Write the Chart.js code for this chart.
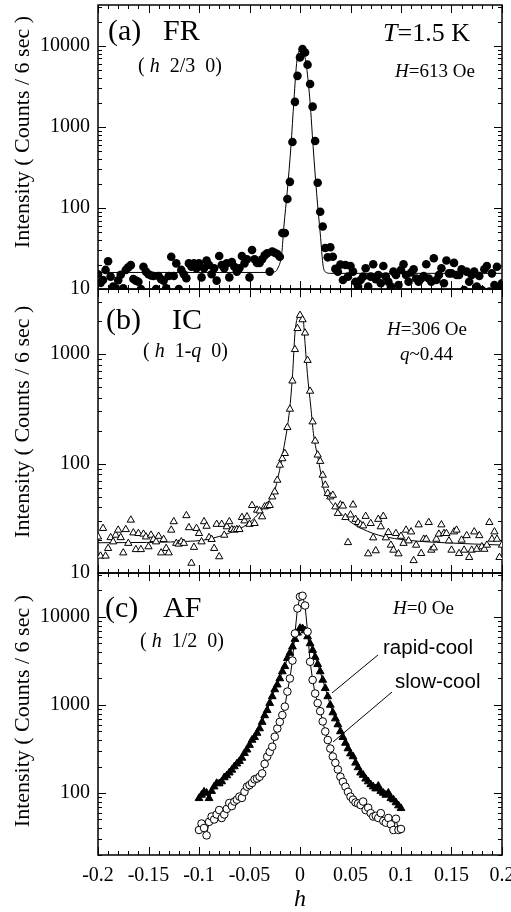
<!DOCTYPE html>
<html>
<head>
<meta charset="utf-8">
<script src="https://cdn.jsdelivr.net/npm/chart.js@4.4.1/dist/chart.umd.min.js"></script>
<style>
  html, body { margin: 0; padding: 0; background: #fff; }
  #wrap { position: relative; width: 511px; height: 912px; overflow: hidden;
          font-family: "Liberation Serif", "Times New Roman", serif; color: #000; }
  canvas { position: absolute; left: 0; }
  .lbl { position: absolute; white-space: pre; line-height: 1; }
  .big { font-size: 30px; }
  .mid { font-size: 20px; }
  .sm { font-size: 19px; }
  .sans { font-family: "Liberation Sans", Arial, sans-serif; font-size: 20.5px; }
</style>
</head>
<body>
<div id="wrap">
  <canvas id="chartFR" width="511" height="300" style="top:0"></canvas>
  <canvas id="chartIC" width="511" height="300" style="top:284px"></canvas>
  <canvas id="chartAF" width="511" height="349" style="top:563px"></canvas>

  <div class="lbl big" style="left:108px;top:15px">(a)</div>
  <div class="lbl big" style="left:163px;top:15px">FR</div>
  <div class="lbl mid" style="left:138px;top:55px">( <i>h</i>  2/3  0)</div>
  <div class="lbl" style="left:383px;top:20px;font-size:26px"><i>T</i>=1.5 K</div>
  <div class="lbl sm" style="left:395px;top:61.4px"><i>H</i>=613 Oe</div>

  <div class="lbl big" style="left:106px;top:304px">(b)</div>
  <div class="lbl big" style="left:172px;top:304px">IC</div>
  <div class="lbl mid" style="left:143px;top:340px">( <i>h</i>  1-<i>q</i>  0)</div>
  <div class="lbl sm" style="left:387px;top:319px"><i>H</i>=306 Oe</div>
  <div class="lbl sm" style="left:400px;top:344px"><i>q</i>~0.44</div>

  <div class="lbl big" style="left:105px;top:591.5px">(c)</div>
  <div class="lbl big" style="left:163px;top:591.5px">AF</div>
  <div class="lbl mid" style="left:140px;top:630px">( <i>h</i>  1/2  0)</div>
  <div class="lbl sm" style="left:393px;top:598.4px"><i>H</i>=0 Oe</div>
  <div class="lbl sans" style="left:383px;top:636.6px">rapid-cool</div>
  <div class="lbl sans" style="left:395px;top:671px">slow-cool</div>
</div>

<script>
// scan positions along h (same grid for FR and IC scans)
const hScan = [
  -0.2, -0.1975, -0.195, -0.1925, -0.19, -0.1875, -0.185, -0.1825, -0.18, -0.1775,
  -0.175, -0.1725, -0.17, -0.1675, -0.165, -0.1625, -0.16, -0.1575, -0.155, -0.1525,
  -0.15, -0.1475, -0.145, -0.1425, -0.14, -0.1375, -0.135, -0.1325, -0.13, -0.1275,
  -0.125, -0.1225, -0.12, -0.1175, -0.115, -0.1125, -0.11, -0.1075, -0.105, -0.1025,
  -0.1, -0.0975, -0.095, -0.0925, -0.09, -0.0875, -0.085, -0.0825, -0.08, -0.0775,
  -0.075, -0.0725, -0.07, -0.0675, -0.065, -0.0625, -0.06, -0.0575, -0.055, -0.0525,
  -0.05, -0.0475, -0.045, -0.0425, -0.04, -0.0375, -0.035, -0.0325, -0.03, -0.0275,
  -0.025, -0.0225, -0.02, -0.0175, -0.015, -0.0125, -0.01, -0.0075, -0.005, -0.0025,
  0, 0.0025, 0.005, 0.0075, 0.01, 0.0125, 0.015, 0.0175, 0.02, 0.0225,
  0.025, 0.0275, 0.03, 0.0325, 0.035, 0.0375, 0.04, 0.0425, 0.045, 0.0475,
  0.05, 0.0525, 0.055, 0.0575, 0.06, 0.0625, 0.065, 0.0675, 0.07, 0.0725,
  0.075, 0.0775, 0.08, 0.0825, 0.085, 0.0875, 0.09, 0.0925, 0.095, 0.0975,
  0.1, 0.1025, 0.105, 0.1075, 0.11, 0.1125, 0.115, 0.1175, 0.12, 0.1225,
  0.125, 0.1275, 0.13, 0.1325, 0.135, 0.1375, 0.14, 0.1425, 0.145, 0.1475,
  0.15, 0.1525, 0.155, 0.1575, 0.16, 0.1625, 0.165, 0.1675, 0.17, 0.1725,
  0.175, 0.1775, 0.18, 0.1825, 0.185, 0.1875, 0.19, 0.1925, 0.195, 0.1975,
  0.2
];

// (a) FR, (h 2/3 0), H=613 Oe
const frCounts = [
  15.2, 11.9, 12.9, 17.2, 22, 14.2, 10.7, 10.2, 12.8, 15,
  10.2, 17.2, 18.5, 19.7, 13.3, 12.7, 12.3, 10, 18.8, 16.4,
  15.2, 14.7, 14.5, 10, 14.5, 13.2, 12.7, 10.2, 14.5, 25,
  14.5, 20.7, 10, 17.2, 15.2, 13.6, 20.7, 18.8, 20.7, 18,
  20.7, 13.9, 18, 22.4, 19.8, 15.2, 18, 12.7, 25.5, 19.8,
  18, 20.7, 13.9, 21.5, 18.8, 16.4, 18, 25.5, 20.7, 23.3,
  13.9, 30.3, 23.3, 21, 21, 23.3, 26, 27.6, 16.4, 29,
  28, 27, 25, 49, 49, 129, 210, 653, 2040, 4270,
  7230, 9120, 8300, 5870, 3390, 1780, 670, 205, 90, 59,
  32, 24.6, 32.7, 25, 17.7, 16.3, 20, 12.9, 19.8, 14.2,
  19.2, 16.4, 12.3, 10.7, 12.9, 14.2, 18, 10.7, 14.2, 20.2,
  13.2, 14.9, 11.8, 19.2, 14.2, 12.3, 10.7, 16.4, 14.9, 11.2,
  17.2, 20.2, 14.9, 12.3, 16, 17.5, 13.5, 12.3, 13.5, 14.5,
  20.2, 13.5, 12.3, 24, 12.9, 14.9, 18, 11.8, 22.5, 15.6,
  15.6, 21, 14.9, 14.9, 17.5, 9.7, 16.4, 12.3, 14.9, 16.4,
  10.7, 14.5, 9.7, 17.5, 19.2, 9.3, 15.6, 11.2, 18.8, 10,
  11.8
];
const frFitH = [-0.2, -0.03, -0.025, -0.0225, -0.018, -0.016, -0.0125, -0.009, -0.006, -0.003, 0,
  0.0015, 0.0035, 0.0065, 0.01, 0.013, 0.0165, 0.02, 0.023, 0.026, 0.03, 0.2];
const frFitCounts = [16, 16, 16.3, 17.5, 28, 58, 167, 570, 2150, 6700, 8900,
  9000, 8500, 5500, 2000, 570, 150, 49, 19, 16, 15.6, 15.6];

// (b) IC, (h 1-q 0), H=306 Oe
const icCounts = [
  21.4, 14.3, 25.6, 14.3, 16.8, 21.1, 19.3, 22.2, 24.7, 21.1,
  15.3, 25.0, 18.7, 30.5, 23.3, 16.4, 23.0, 16.4, 22.7, 21.4,
  17.4, 22.2, 20.3, 19.3, 21.7, 15.3, 20.3, 16.8, 15.3, 24.7,
  29.5, 18.7, 18.4, 19.3, 18.7, 33.5, 26.0, 12.3, 17.2, 25.6,
  23.0, 19.3, 29.5, 26.8, 21.1, 20.3, 16.8, 27.9, 14.1, 27.9,
  22.2, 26.5, 29.5, 25.0, 24.7, 25.0, 25.0, 32.2, 30.0, 32.7,
  27.9, 41.5, 28.4, 37.6, 37.0, 32.7, 40.3, 41, 41.5, 49.7,
  55.2, 70.6, 97, 111, 124, 214, 315, 570, 1105, 1720,
  2270, 2070, 1565, 880, 460, 241, 161, 120, 105, 78.5,
  63.7, 53.5, 49.7, 51.5, 40.3, 35.1, 42, 41, 32.2, 19,
  34, 42, 31, 29, 27.6, 27, 33, 15, 28.4, 21,
  16, 31, 26.5, 33, 21, 23.5, 18, 16.2, 23, 15,
  21.7, 18.7, 24.7, 19.7, 23.8, 13, 18, 27.6, 15.1, 20.4,
  20.4, 29, 16.2, 17, 20.4, 22.7, 27.6, 23, 23, 19.7,
  16.2, 23.8, 24.7, 15.1, 20, 16.2, 22, 13.9, 16.2, 23.8,
  16.5, 22, 17.4, 16.5, 18, 29, 20.4, 23.8, 20.4, 13.9,
  18
];
const icFitH = [-0.2, -0.104, -0.071, -0.051, -0.038, -0.028, -0.025, -0.0175, -0.01, -0.0073, -0.005,
  -0.0023, 0.0007, 0.0033, 0.005, 0.0073, 0.0107, 0.0133, 0.0183, 0.024, 0.028, 0.045, 0.056,
  0.0776, 0.11, 0.1436, 0.2];
const icFitCounts = [18.9, 19.6, 23, 28.4, 37.6, 50, 57, 118, 330, 667, 1550,
  2190, 2320, 2040, 1260, 667, 330, 189, 107, 57, 48, 32, 27,
  22.2, 19.8, 18.9, 18];

// (c) AF, (h 1/2 0), H=0 Oe : scan from -0.1 to 0.1
const hAF = hScan.slice(40, 121);
const slowCool = [
  38, 45, 40, 33, 47, 54, 50, 57, 64, 52,
  57, 66, 77, 71, 80, 84, 91, 88, 103, 118,
  123, 130, 143, 146, 153, 167, 214, 259, 293, 336,
  436, 540, 643, 768, 958, 1420, 2000, 3200, 6500, 12500,
  17000, 17400, 13500, 6800, 3100, 1925, 1350, 1050, 850, 650,
  500, 400, 320, 260, 220, 185, 153, 134, 118, 103,
  91, 84, 78, 76, 73, 80, 64, 68, 59, 54,
  55, 52, 59, 48, 46, 52, 44, 38, 51, 38,
  39
];
const rapidCool = [
  87, 95, 103, 100, 87, 105, 118, 129, 128, 135,
  150, 158, 170, 183, 200, 215, 230, 250, 283, 310,
  350, 400, 430, 480, 540, 640, 760, 870, 1050, 1250,
  1500, 1700, 2000, 2400, 2750, 3400, 3900, 4600, 5600, 6600,
  7450, 7400, 7000, 6000, 5000, 4200, 3500, 2900, 2400, 1925,
  1550, 1250, 1000, 820, 700, 600, 500, 430, 370, 320,
  280, 260, 220, 195, 170, 160, 145, 135, 125, 118,
  112, 120, 105, 100, 95, 100, 87, 84, 78, 72,
  67
];
// pointer lines from the curve labels
const rapidLeaderH = [0.0772, 0.0317];
const rapidLeaderCounts = [3700, 1370];
const slowLeaderH = [0.0911, 0.0327];
const slowLeaderCounts = [1405, 380];

// tick labels
const xTickLabels = [-0.2, -0.15, -0.1, -0.05, 0, 0.05, 0.1, 0.15, 0.2];
const yTicksFR = [10, 100, 1000, 10000];
const yTicksIC = [10, 100, 1000];
const yTicksAF = [100, 1000, 10000];

[[hScan, 161], [frCounts, 161], [icCounts, 161], [slowCool, 81], [rapidCool, 81]].forEach(([a, n]) => {
  if (a.length !== n) throw new Error('bad length ' + a.length + ' expected ' + n);
});

const SERIF = '"Liberation Serif", "Times New Roman", serif';
const toXY = (xs, ys) => xs.map((x, i) => ({x: x, y: ys[i]}));

// frame and inward tick marks on all four sides
const frameTicks = {
  id: 'frameTicks',
  beforeDatasetsDraw(chart) {
    const {ctx, chartArea: a} = chart;
    const x = chart.scales.x, y = chart.scales.y;
    ctx.save();
    ctx.strokeStyle = '#000';
    ctx.lineWidth = 1;
    ctx.beginPath();
    for (let k = -20; k <= 20; k++) {
      const px = Math.round(x.getPixelForValue(k / 100)) + 0.5;
      const len = k % 5 === 0 ? 8 : 4;
      ctx.moveTo(px, a.bottom); ctx.lineTo(px, a.bottom - len);
      ctx.moveTo(px, a.top); ctx.lineTo(px, a.top + len);
    }
    for (let d = 1; d <= 5; d++) {
      for (let m = 1; m <= 9; m++) {
        const v = m * Math.pow(10, d);
        if (v < y.min || v > y.max) continue;
        const py = Math.round(y.getPixelForValue(v)) + 0.5;
        const len = m === 1 ? 8 : 4;
        ctx.moveTo(a.left, py); ctx.lineTo(a.left + len, py);
        ctx.moveTo(a.right, py); ctx.lineTo(a.right - len, py);
      }
    }
    ctx.stroke();
    ctx.lineWidth = 1.5;
    ctx.strokeRect(a.left, a.top, a.right - a.left, a.bottom - a.top);
    ctx.restore();
  }
};

function yAxis(min, max, ticks, titleText) {
  return {
    type: 'logarithmic',
    min: min,
    max: max,
    afterBuildTicks: s => { s.ticks = ticks.map(v => ({value: v})); },
    afterFit: s => { s.width = 98; s.paddingTop = 0; s.paddingBottom = 0; },
    grid: {display: false, drawTicks: false},
    border: {display: false},
    ticks: {
      color: '#000', padding: 8, autoSkip: false,
      font: {family: SERIF, size: 20},
      callback: v => String(v)
    },
    title: {
      display: true, text: titleText, align: 'end', color: '#000',
      font: {family: SERIF, size: 22}, padding: {top: 10, bottom: 0}
    }
  };
}

function hiddenX() {
  return {type: 'linear', min: -0.2, max: 0.2, display: false};
}

function makeChart(id, datasets, scales, padding) {
  return new Chart(document.getElementById(id), {
    type: 'scatter',
    data: {datasets: datasets},
    options: {
      responsive: false,
      animation: false,
      devicePixelRatio: 1,
      layout: {padding: padding},
      plugins: {legend: {display: false}, tooltip: {enabled: false}},
      scales: scales
    },
    plugins: [frameTicks]
  });
}

const fitLine = (xs, ys) => ({
  data: toXY(xs, ys), showLine: true, pointRadius: 0, borderColor: '#000',
  borderWidth: 1, cubicInterpolationMode: 'monotone'
});

// (a)
makeChart('chartFR', [
  {data: toXY(hScan, frCounts), pointStyle: 'circle', pointRadius: 4.3,
   backgroundColor: '#000', borderColor: '#000', borderWidth: 0, showLine: false},
  fitLine(frFitH, frFitCounts)
], {
  x: hiddenX(),
  y: yAxis(10, 32000, yTicksFR, 'Intensity ( Counts / 6 sec )  ')
}, {top: 5, bottom: 11, left: 0, right: 9});

// (b)
makeChart('chartIC', [
  {data: toXY(hScan, icCounts), pointStyle: 'triangle', pointRadius: 4.2,
   backgroundColor: '#fff', borderColor: '#000', borderWidth: 1, showLine: false},
  fitLine(icFitH, icFitCounts)
], {
  x: hiddenX(),
  y: yAxis(10, 3930, yTicksIC, 'Intensity ( Counts / 6 sec )   ')
}, {top: 5, bottom: 11, left: 0, right: 9});

// (c)
makeChart('chartAF', [
  {data: toXY(hAF, slowCool), pointStyle: 'circle', pointRadius: 3.8,
   backgroundColor: '#fff', borderColor: '#000', borderWidth: 1, showLine: true},
  {data: toXY(hAF, rapidCool), pointStyle: 'triangle', pointRadius: 4.5,
   backgroundColor: '#000', borderColor: '#000', borderWidth: 1, showLine: true},
  {data: toXY(rapidLeaderH, rapidLeaderCounts), showLine: true, pointRadius: 0,
   borderColor: '#000', borderWidth: 1},
  {data: toXY(slowLeaderH, slowLeaderCounts), showLine: true, pointRadius: 0,
   borderColor: '#000', borderWidth: 1}
], {
  x: {
    type: 'linear', min: -0.2, max: 0.2,
    afterBuildTicks: s => { s.ticks = xTickLabels.map(v => ({value: v})); },
    afterFit: s => { s.height = 57; s.paddingLeft = 0; s.paddingRight = 0; },
    grid: {display: false, drawTicks: false},
    border: {display: false},
    ticks: {
      color: '#000', padding: 9, autoSkip: false, maxRotation: 0,
      font: {family: SERIF, size: 20},
      callback: v => String(+v.toFixed(2))
    },
    title: {
      display: true, text: 'h', color: '#000', padding: 0,
      font: {family: SERIF, size: 24, style: 'italic', lineHeight: 1}
    }
  },
  y: yAxis(19.75, 31600, yTicksAF, 'Intensity ( Counts / 6 sec )    ')
}, {top: 10, bottom: 0, left: 0, right: 9});
</script>
</body>
</html>
